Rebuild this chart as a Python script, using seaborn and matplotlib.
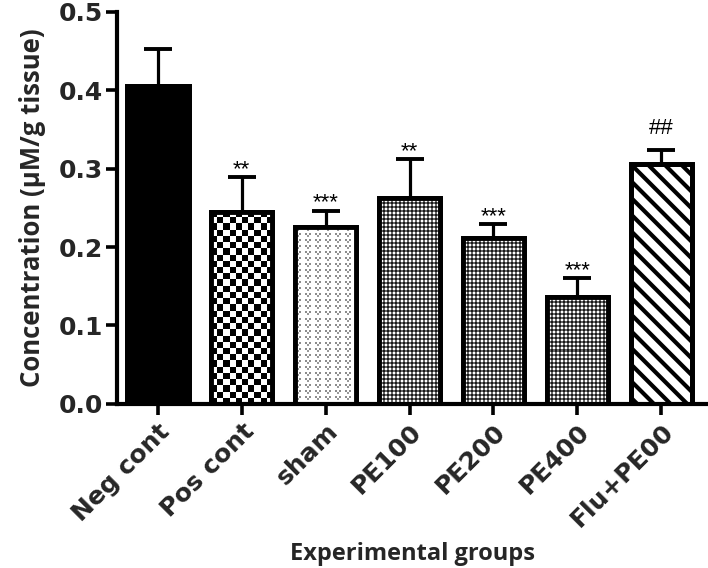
import numpy as np
import pandas as pd
import matplotlib
matplotlib.use("Agg")
import matplotlib.pyplot as plt
import seaborn as sns

groups = ["Neg cont", "Pos cont", "sham", "PE100", "PE200", "PE400", "Flu+PE00"]
means = [0.405, 0.245, 0.225, 0.262, 0.211, 0.136, 0.306]
sem = [0.048, 0.044, 0.021, 0.050, 0.018, 0.024, 0.018]
marks = ["", "**", "***", "**", "***", "***", "##"]

sns.set_theme(style="ticks")
plt.rcParams["hatch.linewidth"] = 3.0

df = pd.DataFrame({"group": groups, "conc": means})

fig, ax = plt.subplots(figsize=(7.08, 5.68), dpi=100)
fig.subplots_adjust(left=0.165, right=0.999, top=0.979, bottom=0.289)

sns.barplot(data=df, x="group", y="conc", color="white", width=0.73,
            errorbar=None, ax=ax, zorder=2)

ax.set_ylim(0, 0.5)
ax.set_xlim(-0.49, 6.55)
ax.set_yticks(np.arange(0, 0.51, 0.1))
ax.yaxis.set_major_formatter(matplotlib.ticker.FormatStrFormatter("%.1f"))

bars = list(ax.patches)
fig.canvas.draw()


def texture(p, tile, cell):
    # fill a bar with a repeated grey-level tile, clipped to the bar
    x0, y0 = p.get_x(), p.get_y()
    w, h = p.get_width(), p.get_height()
    (px0, py0), (px1, py1) = ax.transData.transform([(x0, y0), (x0 + w, y0 + h)])
    nc = max(1, int(round((px1 - px0) / cell)))
    nr = max(1, int(round((py1 - py0) / cell)))
    tile = np.asarray(tile, dtype=float)
    reps = (nr // tile.shape[0] + 1, nc // tile.shape[1] + 1)
    arr = np.tile(tile, reps)[:nr, :nc]
    im = ax.imshow(arr, cmap="gray", vmin=0, vmax=1, extent=(x0, x0 + w, y0, y0 + h),
                   aspect="auto", interpolation="nearest", zorder=2.5)
    im.set_clip_path(p)


checker = [[0, 1], [1, 0]]
chevron = [[0.55, 1, 0.55, 1, 1],
           [1, 0.6, 1, 1, 1],
           [1, 1, 1, 1, 1]]
dots = [[0.1, 0.4], [0.4, 1.0]]

for i, p in enumerate(bars):
    p.set_linewidth(3.5)
    p.set_edgecolor("black")
    if i == 0:
        p.set_facecolor("black")
    elif i == 1:
        texture(p, checker, 6.2)
    elif i == 2:
        texture(p, chevron, 2)
    elif i in (3, 4, 5):
        texture(p, dots, 2)
    else:
        p.set_facecolor("white")
        p.set_hatch("\\\\")
    ax.add_patch(plt.Rectangle(p.get_xy(), p.get_width(), p.get_height(),
                               fill=False, ec="black", lw=3.5, zorder=3))

# error bars (upper only)
xs = [b.get_x() + b.get_width() / 2 for b in bars]
ax.errorbar(xs, means, yerr=[np.zeros(len(sem)), sem], fmt="none",
            ecolor="black", elinewidth=2.3, capsize=10, capthick=2.8, zorder=1)

for x, m, s, t in zip(xs, means, sem, marks):
    if t:
        off = 0.02 if "#" in t else 0.003
        ax.text(x, m + s + off, t, ha="center", va="baseline",
                fontsize=16, color="black", family="Liberation Sans")

sns.despine(ax=ax)
for side in ["left", "bottom"]:
    ax.spines[side].set_linewidth(3)
    ax.spines[side].set_color("black")
ax.tick_params(axis="both", width=2.6, length=8, color="black")
ax.tick_params(axis="y", pad=2)
ax.tick_params(axis="x", pad=3)

ax.set_xticks(range(len(groups)))
ax.set_xticklabels(groups, rotation=45, ha="right", rotation_mode="anchor",
                   fontsize=18, fontweight="bold", family="DejaVu Sans")
for lab in ax.get_yticklabels():
    lab.set_fontsize(18)
    lab.set_fontweight("bold")
    lab.set_family("DejaVu Sans")

ax.set_xlabel("Experimental groups", fontsize=17, fontweight="bold",
              family="Open Sans", labelpad=8)
ax.set_ylabel("Concentration (µM/g tissue)", fontsize=18.5, fontweight="bold",
              family="Open Sans", labelpad=9)

fig.savefig("out.png", dpi=100)
